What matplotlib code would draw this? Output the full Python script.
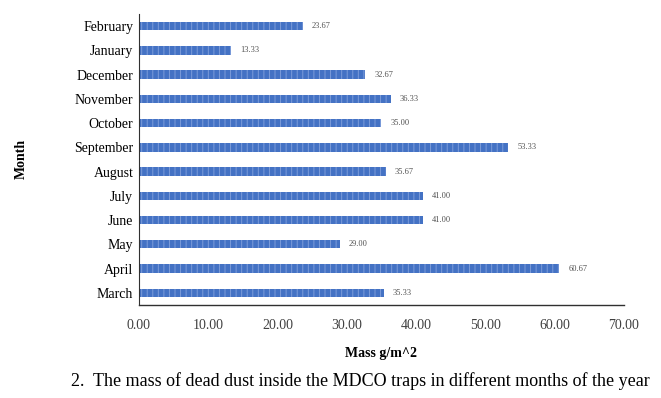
import matplotlib.pyplot as plt
import numpy as np

months = ["March", "April", "May", "June", "July", "August", "September",
          "October", "November", "December", "January", "February"]
mass = [35.33, 60.67, 29.00, 41.00, 41.00, 35.67, 53.33,
        35.00, 36.33, 32.67, 13.33, 23.67]
xticks = np.arange(0, 71, 10)

plt.rcParams['font.family'] = ['Liberation Serif', 'DejaVu Serif']
plt.rcParams['hatch.linewidth'] = 0.7

fig = plt.figure(figsize=(6.61, 3.98), dpi=100)
ax = fig.add_axes([0.21, 0.234, 0.734, 0.731])

y = np.arange(len(months))
bars = ax.barh(y, mass, height=0.35, color="#4472C4", edgecolor="#7C9CDA",
               linewidth=0, hatch="|||")
for yi, v in zip(y, mass):
    ax.text(v + 1.3, yi, f"{v:.2f}", va="center", ha="left", fontsize=6, color="#505050")

ax.set_xlim(0, 70)
ax.set_ylim(-0.5, len(months) - 0.5)
ax.set_xticks(xticks)
ax.set_xticklabels([f"{t:.2f}" for t in xticks], fontsize=10, color="#404040")
ax.set_yticks(y)
ax.set_yticklabels(months, fontsize=10)
ax.tick_params(axis="both", length=0, pad=10)
ax.tick_params(axis="y", pad=4)
for s in ["top", "right"]:
    ax.spines[s].set_visible(False)
ax.spines["left"].set_color("#303030")
ax.spines["bottom"].set_color("#303030")
ax.spines["bottom"].set_linewidth(1.0)

ax.set_xlabel("Mass g/m^2", fontsize=10, fontweight="bold", labelpad=11)
ax.set_ylabel("Month", fontsize=10, fontweight="bold")
ax.yaxis.set_label_coords(-0.228, 0.5)

fig.text(0.545, 0.042, "2.  The mass of dead dust inside the MDCO traps in different months of the year",
         ha="center", va="center", fontsize=13)

fig.savefig("out.png", dpi=100)
